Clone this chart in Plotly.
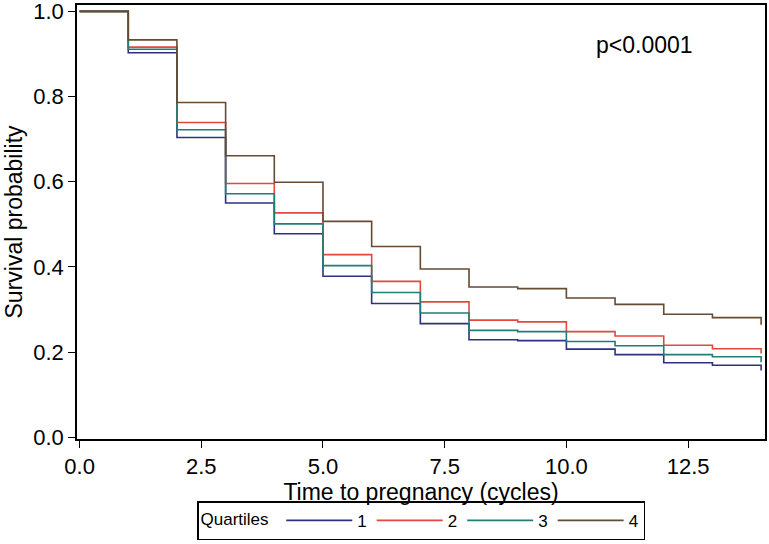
import plotly.graph_objects as go

# Dados (curvas de sobrevida por quartil)
ciclos = list(range(0, 15))
q1 = [1.0, 0.903, 0.704, 0.550, 0.478, 0.378, 0.314, 0.267, 0.229, 0.227, 0.207, 0.194, 0.175, 0.169, 0.157]
q2 = [1.0, 0.916, 0.739, 0.596, 0.527, 0.429, 0.366, 0.318, 0.275, 0.271, 0.248, 0.238, 0.216, 0.208, 0.197]
q3 = [1.0, 0.911, 0.722, 0.572, 0.501, 0.403, 0.340, 0.292, 0.251, 0.248, 0.225, 0.215, 0.194, 0.189, 0.176]
q4 = [1.0, 0.933, 0.786, 0.661, 0.599, 0.507, 0.448, 0.395, 0.353, 0.349, 0.327, 0.312, 0.289, 0.281, 0.264]

nomes = ["1", "2", "3", "4"]
cores = ["#2E3180", "#E2483D", "#1E7F76", "#654B33"]

fig = go.Figure()

# Uma curva em degrau para cada quartil
for nome, valores, cor in zip(nomes, [q1, q2, q3, q4], cores):
    fig.add_trace(
        go.Scatter(
            x=ciclos,
            y=valores,
            mode="lines",
            name=nome,
            line=dict(color=cor, width=1.6, shape="hv"),
        )
    )

# Texto do p-valor
fig.add_annotation(
    x=11.6,
    y=0.92,
    text="p<0.0001",
    showarrow=False,
    font=dict(size=23, color="black"),
)

eixo = dict(
    showline=True,
    linecolor="black",
    linewidth=1.5,
    mirror=True,
    ticks="outside",
    ticklen=7,
    tickwidth=1.2,
    tickcolor="black",
    showgrid=False,
    zeroline=False,
    automargin=False,
    ticklabeloverflow="allow",
    tickfont=dict(size=22, color="black"),
)

fig.update_xaxes(
    eixo,
    range=[-0.053, 14.08],
    tickvals=[0, 2.5, 5, 7.5, 10, 12.5],
    ticktext=["0.0", "2.5", "5.0", "7.5", "10.0", "12.5"],
    title=dict(text="Time to pregnancy (cycles)", font=dict(size=23, color="black"), standoff=0),
)
fig.update_yaxes(
    eixo,
    range=[-0.004, 1.015],
    tickvals=[0, 0.2, 0.4, 0.6, 0.8, 1.0],
    ticktext=["0.0", "0.2", "0.4", "0.6", "0.8", "1.0"],
    title=dict(text="Survival probability", font=dict(size=23, color="black"), standoff=4),
)

fig.update_layout(
    width=769,
    height=544,
    margin=dict(l=77, r=4, t=5, b=100),
    plot_bgcolor="white",
    paper_bgcolor="white",
    font=dict(family="Liberation Sans, Arial, Helvetica, sans-serif", color="black"),
    legend=dict(
        orientation="h",
        x=0.5,
        xanchor="center",
        y=-0.1435,
        yanchor="top",
        title=dict(text="Quartiles ", side="left", font=dict(size=17)),
        font=dict(size=17),
        bordercolor="black",
        borderwidth=1.5,
        itemwidth=66,
        tracegroupgap=0,
    ),
)

# Remove a margem padrão da página e a barra de ferramentas
fig.write_html(
    "out.html",
    config={"displayModeBar": False},
    post_script="document.body.style.margin='0';",
)
